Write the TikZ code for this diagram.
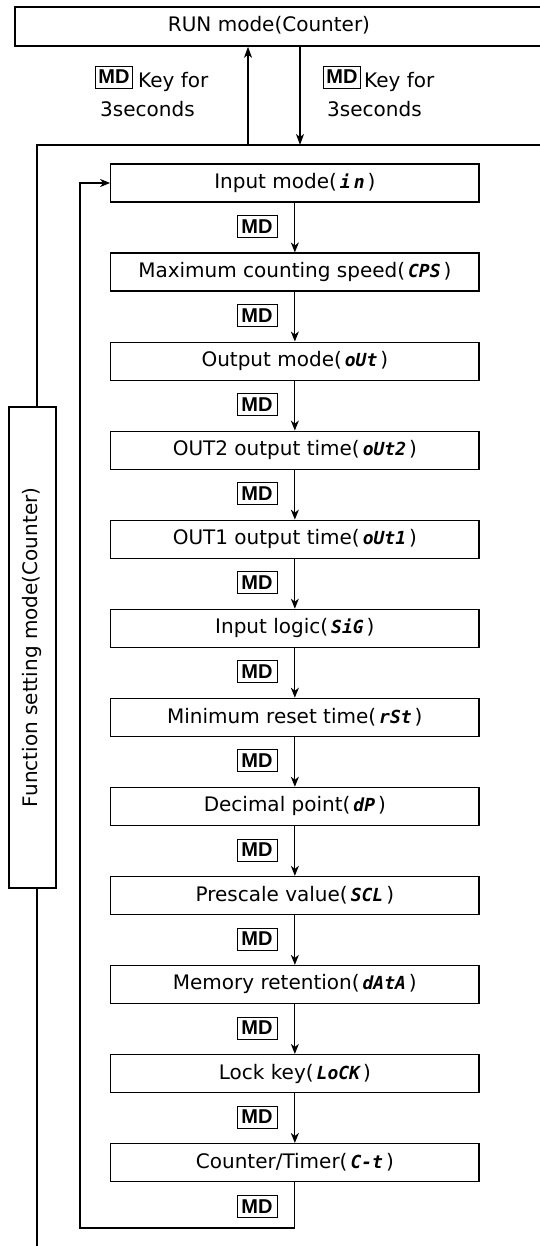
\documentclass[tikz,border=0pt]{standalone}
\usepackage{fontspec}
\setmainfont{DejaVu Sans}
\newfontfamily\mdfont{Liberation Sans}
\newfontfamily\segfont{DejaVu Sans Mono}
\usetikzlibrary{arrows.meta,calc}
\newcommand{\segtxt}[1]{{\segfont\bfseries\itshape\fontsize{18}{20}\selectfont\,#1\,}}
\begin{document}
\begin{tikzpicture}[x=1pt,y=-1pt,
  stepbox/.style={draw, line width=1.2pt, minimum width=368.3pt, minimum height=38pt, inner sep=0pt, font=\fontsize{20}{24}\selectfont},
  mdkey/.style={draw, line width=0.9pt, minimum width=40pt, minimum height=22pt, inner sep=0pt, font=\mdfont\bfseries\fontsize{20}{22}\selectfont},
  arr/.style={line width=1.2pt, -{Stealth[length=10pt,width=8pt,inset=3pt]}},
  toparr/.style={line width=1.4pt, -{Stealth[length=11pt,width=8pt,inset=3pt]}},
  frameline/.style={line width=1.8pt},
  lbl/.style={font=\fontsize{20}{24}\selectfont, inner sep=0pt}
]
\useasboundingbox (0,0) rectangle (539,1246);

% RUN mode box (open to the right edge)
\node[draw, frameline, minimum width=545pt, minimum height=39pt, inner sep=0pt, anchor=north west] (run) at (14.4,6) {};
\node[lbl] (runtxt) at (269,25.5) {RUN mode(Counter)};

% outer frame
\coordinate (fr) at (545,145);
\coordinate (fl) at (36.7,145);
\coordinate (fbot) at (36.7,1250);
\node[draw, frameline, minimum width=46.7pt, minimum height=481.3pt, inner sep=0pt] (fsm) at (32.35,647.35) {};
\node[lbl, rotate=90] (fsmtxt) at (fsm.center) {Function setting mode(Counter)};
\draw[frameline] (fr) -- (fl) -- (fl |- fsm.north);
\draw[frameline] (fl |- fsm.south) -- (fbot);

% arrows between RUN and function mode
\coordinate (upb) at (248,145);
\coordinate (dnb) at (300,145);
\draw[toparr] (upb) -- (upb |- run.south);
\draw[toparr] (dnb |- run.south) -- (dnb);

% top labels
\node[mdkey, minimum width=37pt] (mdl) at (114,77) {MD};
\node[lbl, anchor=base west] (kfl) at (138,88) {Key for};
\node[lbl, anchor=base west] (sl) at (100,117) {3seconds};
\node[mdkey, minimum width=37pt] (mdr) at (342,77) {MD};
\node[lbl, anchor=base west] (kfr) at (364,88) {Key for};
\node[lbl, anchor=base west] (sr) at (327,117) {3seconds};

% step boxes
\foreach \i/\t in {
  0/{Input mode(\segtxt{i\,n})},
  1/{Maximum counting speed(\segtxt{CPS})},
  2/{Output mode(\segtxt{oUt})},
  3/{OUT2 output time(\segtxt{oUt2})},
  4/{OUT1 output time(\segtxt{oUt1})},
  5/{Input logic(\segtxt{SiG})},
  6/{Minimum reset time(\segtxt{rSt})},
  7/{Decimal point(\segtxt{dP})},
  8/{Prescale value(\segtxt{SCL})},
  9/{Memory retention(\segtxt{dAtA})},
  10/{Lock key(\segtxt{LoCK})},
  11/{Counter/Timer(\segtxt{C-t})}}{
  \node[stepbox] (b\i) at (294.85,{183+89.05*\i}) {\t};
}

\foreach \i [evaluate=\i as \j using int(\i+1)] in {0,...,10}{
  \draw[arr] (b\i.south) -- (b\j.north);
  \node[mdkey] (md\i) at ($(b\i.south)+(-37.85,24)$) {MD};
}
\node[mdkey] (md11) at ($(b11.south)+(-37.85,24)$) {MD};

% return loop
\coordinate (rb) at (80,1228);
\draw[arr] (b11.south) |- (rb) |- (b0.west);
\end{tikzpicture}
\end{document}
